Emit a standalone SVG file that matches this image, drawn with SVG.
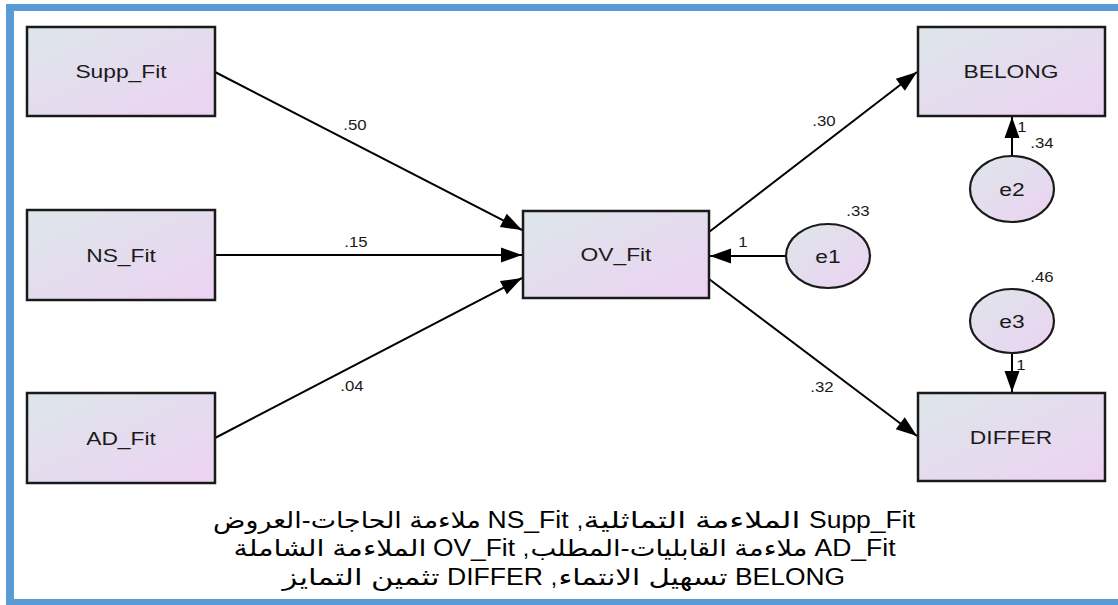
<svg xmlns="http://www.w3.org/2000/svg" width="1118" height="605" viewBox="0 0 1118 605">
<style>
.box{fill:url(#g);stroke:#1a1a1a;stroke-width:2.5}
.ell{fill:url(#g);stroke:#1a1a1a;stroke-width:2.2}
.nl{font-family:"Liberation Sans",Arial,sans-serif;font-size:19px;fill:#1a1a1a;text-anchor:middle}
.el{font-family:"Liberation Sans",Arial,sans-serif;font-size:14px;fill:#1a1a1a;text-anchor:middle}
.con{stroke:#000;stroke-width:2;fill:none;marker-end:url(#ah)}
.cap{font-family:"Liberation Sans","DejaVu Sans",sans-serif;font-size:23px;fill:#000;text-anchor:middle}
</style>
<defs>
<linearGradient id="g" x1="0" y1="0" x2="1" y2="1">
<stop offset="0" stop-color="#dde6ea"/>
<stop offset="1" stop-color="#ecd2f2"/>
</linearGradient>
<marker id="ah" markerUnits="userSpaceOnUse" markerWidth="24" markerHeight="18" viewBox="-22 -9 24 18" refX="0" refY="0" orient="auto">
<path d="M0,0 L-21,-7.5 L-21,7.5 Z" fill="#000"/>
</marker>
</defs>
<rect width="1118" height="605" fill="#fff"/>
<g id="frame" fill="#5b9bd5">
<rect x="6" y="4" width="1112" height="7"/>
<rect x="6" y="4" width="8" height="601"/>
<rect x="6" y="599" width="1112" height="6"/>
</g>
<g id="connectors">
<line class="con" x1="215" y1="72" x2="522" y2="230"/>
<line class="con" x1="215" y1="255" x2="522" y2="255"/>
<line class="con" x1="215" y1="438" x2="522" y2="278"/>
<line class="con" x1="709" y1="232" x2="917" y2="72"/>
<line class="con" x1="709" y1="279" x2="917" y2="436"/>
<line class="con" x1="786" y1="256" x2="710" y2="256"/>
<line class="con" x1="1012" y1="155" x2="1012" y2="117"/>
<line class="con" x1="1012" y1="354" x2="1012" y2="392"/>
<text class="el" transform="translate(355,130) scale(1.2,1)">.50</text>
<text class="el" transform="translate(356,247) scale(1.2,1)">.15</text>
<text class="el" transform="translate(352,391) scale(1.2,1)">.04</text>
<text class="el" transform="translate(824,126) scale(1.2,1)">.30</text>
<text class="el" transform="translate(822,392) scale(1.2,1)">.32</text>
<text class="el" transform="translate(743,247) scale(1.2,1)">1</text>
<text class="el" transform="translate(1022,132) scale(1.2,1)">1</text>
<text class="el" transform="translate(1021,370) scale(1.2,1)">1</text>
</g>
<g id="Supp_Fit"><rect class="box" x="27" y="27" width="188" height="89"/><text class="nl" transform="translate(121,78) scale(1.2,1)">Supp_Fit</text></g>
<g id="NS_Fit"><rect class="box" x="27" y="210" width="188" height="90"/><text class="nl" transform="translate(121,262) scale(1.2,1)">NS_Fit</text></g>
<g id="AD_Fit"><rect class="box" x="27" y="393" width="188" height="90"/><text class="nl" transform="translate(121,445) scale(1.2,1)">AD_Fit</text></g>
<g id="OV_Fit"><rect class="box" x="523" y="211" width="186" height="87"/><text class="nl" transform="translate(616,261) scale(1.2,1)">OV_Fit</text></g>
<g id="BELONG"><rect class="box" x="918" y="27" width="187" height="89"/><text class="nl" transform="translate(1011,78) scale(1.2,1)">BELONG</text></g>
<g id="DIFFER"><rect class="box" x="918" y="393" width="187" height="88"/><text class="nl" transform="translate(1011,444) scale(1.2,1)">DIFFER</text></g>
<g id="e1"><ellipse class="ell" cx="828" cy="256" rx="42" ry="32"/><text class="nl" transform="translate(828,263) scale(1.2,1)">e1</text><text class="el" transform="translate(858,216) scale(1.2,1)">.33</text></g>
<g id="e2"><ellipse class="ell" cx="1012" cy="189" rx="42" ry="33"/><text class="nl" transform="translate(1012,196) scale(1.2,1)">e2</text><text class="el" transform="translate(1042,148) scale(1.2,1)">.34</text></g>
<g id="e3"><ellipse class="ell" cx="1012" cy="321" rx="42" ry="32"/><text class="nl" transform="translate(1012,328) scale(1.2,1)">e3</text><text class="el" transform="translate(1042,282) scale(1.2,1)">.46</text></g>
<g id="caption">
<text class="cap" x="347" y="528" textLength="268" lengthAdjust="spacingAndGlyphs">ملاءمة الحاجات-العروض</text>
<text class="cap" x="528" y="528" textLength="81" lengthAdjust="spacingAndGlyphs">NS_Fit</text>
<text class="cap" x="580" y="528">,</text>
<text class="cap" x="692" y="528" textLength="217" lengthAdjust="spacingAndGlyphs">الملاءمة التماثلية</text>
<text class="cap" x="862" y="528" textLength="106" lengthAdjust="spacingAndGlyphs">Supp_Fit</text>
<text class="cap" x="330" y="556" textLength="193" lengthAdjust="spacingAndGlyphs">الملاءمة الشاملة</text>
<text class="cap" x="474" y="556" textLength="82" lengthAdjust="spacingAndGlyphs">OV_Fit</text>
<text class="cap" x="526" y="556">,</text>
<text class="cap" x="669" y="556" textLength="277" lengthAdjust="spacingAndGlyphs">ملاءمة القابليات-المطلب</text>
<text class="cap" x="855" y="556" textLength="81" lengthAdjust="spacingAndGlyphs">AD_Fit</text>
<text class="cap" x="361" y="585" textLength="157" lengthAdjust="spacingAndGlyphs">تثمين التمايز</text>
<text class="cap" x="495" y="585" textLength="96" lengthAdjust="spacingAndGlyphs">DIFFER</text>
<text class="cap" x="554" y="585">,</text>
<text class="cap" x="643" y="585" textLength="169" lengthAdjust="spacingAndGlyphs">تسهيل الانتماء</text>
<text class="cap" x="790" y="585" textLength="110" lengthAdjust="spacingAndGlyphs">BELONG</text>
</g>
</svg>
